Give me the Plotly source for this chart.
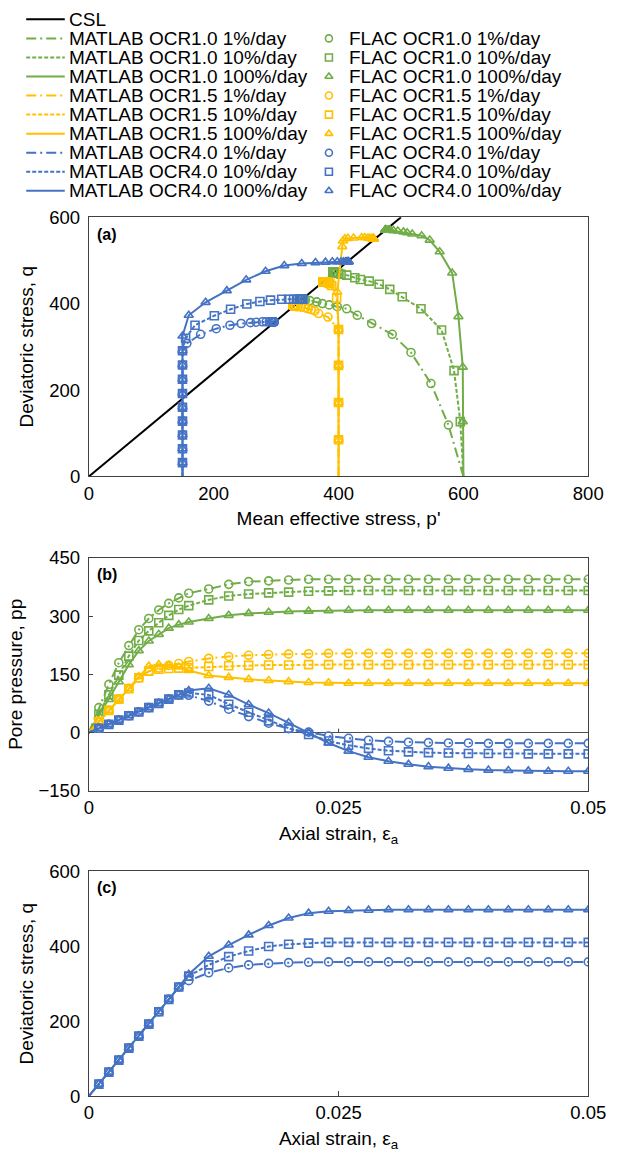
import plotly.graph_objects as go

# ---------------- data ----------------
strain = [0, 0.001, 0.002, 0.003, 0.004, 0.005, 0.006, 0.007, 0.008, 0.009, 0.010,
          0.012, 0.014, 0.016, 0.018, 0.020, 0.022, 0.024, 0.026, 0.028, 0.030,
          0.032, 0.034, 0.036, 0.038, 0.040, 0.042, 0.044, 0.046, 0.048, 0.050]

# Critical state line
csl_p = [0, 500]
csl_q = [0, 600]

# OCR 1.0 (p0' = 600)
q_ocr10_r1 = [0, 119, 215, 287, 329, 354, 373, 388, 393, 397, 400, 404, 407] + [408] * 18
u_ocr10_r1 = [0, 64, 124, 180, 224, 265, 294, 316, 333, 347, 359, 370, 382, 389, 391, 393] + [395] * 15
p_ocr10_r1 = [600, 576, 548, 516, 486, 453, 430, 413, 398, 385, 374, 365, 354, 347, 345, 343] + [341] * 15

q_ocr10_r10 = [0, 127, 245, 339, 388, 416, 433, 445, 452, 456, 460, 466, 468, 470, 471] + [472] * 16
u_ocr10_r10 = [0, 47, 97, 148, 197, 237, 262, 283, 302, 317, 327, 342, 352, 357, 360, 362, 364, 365] + [366] * 13
p_ocr10_r10 = [600, 595, 585, 565, 532, 502, 482, 465, 449, 435, 426, 413, 404, 400, 397, 395, 393, 392] + [391] * 13

q_ocr10_r100 = [0, 127, 253, 370, 471, 520, 547, 557, 561, 564, 566, 568, 569] + [570] * 18
u_ocr10_r100 = [0, 43, 85, 131, 175, 211, 236, 253, 269, 278, 285, 294, 302, 307, 310, 312, 313, 314] + [315] * 13
p_ocr10_r100 = [600, 599, 599, 592, 582, 562, 546, 533, 518, 510, 504, 495, 488, 483, 480, 478, 477, 476] + [475] * 13

# OCR 1.5 (p0' = 400)
q_ocr15_r1 = [0, 85, 171, 257, 340, 369, 377, 383, 386, 388, 390, 392, 393, 393] + [394] * 17
u_ocr15_r1 = [0, 28, 57, 86, 113, 140, 158, 166, 173, 178, 183, 191, 196, 199, 201, 202, 203] + [204] * 14
p_ocr15_r1 = [400, 400, 400, 400, 400, 383, 368, 362, 356, 351, 347, 340, 335, 332, 330, 329, 328] + [327] * 14

q_ocr15_r10 = [0, 85, 171, 257, 340, 413, 442, 446, 448, 449] + [450] * 21
u_ocr15_r10 = [0, 28, 57, 86, 113, 141, 158, 163, 165, 166, 167, 170, 172, 173, 174, 174] + [175] * 15
p_ocr15_r10 = [400, 400, 400, 400, 400, 397, 389, 386, 384, 384, 383, 380, 378, 377, 376, 376] + [375] * 15

q_ocr15_r100 = [0, 85, 171, 257, 340, 427, 532, 545, 550, 551, 552, 553, 553, 552, 551, 551] + [550] * 15
u_ocr15_r100 = [0, 28, 57, 86, 113, 144, 171, 175, 173, 169, 160, 147, 142, 137, 134, 131, 129, 128] + [127] * 13
p_ocr15_r100 = [400, 400, 400, 400, 400, 398, 406, 407, 410, 415, 424, 437, 442, 447, 450, 453, 454, 455] + [456] * 13

# OCR 4.0 (p0' = 150)
q_ocr40_r1 = [0, 32, 64, 96, 128, 160, 192, 225, 258, 291, 308, 329, 342, 350, 354, 356, 357] + [358] * 14
u_ocr40_r1 = [0, 11, 21, 32, 43, 53, 64, 75, 86, 97, 96, 81, 60, 41, 24, 10, 1, -9, -15, -20,
              -23, -25, -26, -27, -27] + [-28] * 6
p_ocr40_r1 = [150] * 10 + [157, 179, 204, 226, 244, 259, 268, 278, 284, 289, 292, 294, 295, 296, 296] + [297] * 6

q_ocr40_r10 = [0, 32, 64, 96, 128, 160, 192, 225, 258, 291, 320, 350, 372, 387, 399, 405, 408] + [410] * 14
u_ocr40_r10 = [0, 11, 21, 32, 43, 53, 64, 75, 86, 97, 102, 97, 73, 52, 30, 11, -5, -22, -33, -41,
               -47, -50, -52, -53, -54, -54, -54, -55, -55, -55, -55]
p_ocr40_r10 = [150] * 10 + [155, 170, 201, 227, 253, 274, 291, 309, 320, 328, 334, 337, 339, 340,
                            341, 341, 341, 342, 342, 342, 342]

q_ocr40_r100 = [0, 32, 64, 96, 128, 160, 192, 225, 258, 291, 325, 373, 403, 430, 455, 475, 488,
                493, 495, 496] + [497] * 11
u_ocr40_r100 = [0, 11, 21, 32, 43, 53, 64, 75, 86, 97, 108, 114, 97, 72, 50, 25, 0, -27, -48, -64,
                -74, -82, -88, -92, -95, -97, -98, -99, -100, -100, -100]
p_ocr40_r100 = [150] * 11 + [160, 187, 221, 252, 283, 313, 341, 363, 379, 390, 398, 404, 408, 411,
                             413, 414, 415, 416, 416, 416]

# axis ticks
p_ticks = [0, 200, 400, 600, 800]
q_ticks = [0, 200, 400, 600]
u_ticks = [-150, 0, 150, 300, 450]
e_ticks = [0, 0.025, 0.05]
e_ticktext = ["0", "0.025", "0.05"]

# ---------------- styling ----------------
GREEN = "#70AD47"
GOLD = "#FFC000"
BLUE = "#4472C4"
FONT = "Liberation Sans, Arial, sans-serif"
DASH = {"1%/day": "10px,4px,2px,4px", "10%/day": "4px,2px", "100%/day": "solid"}
SYMBOL = {"1%/day": "circle-open", "10%/day": "square-open", "100%/day": "triangle-up-open"}

series = [
    ("OCR1.0", "1%/day", GREEN, p_ocr10_r1, q_ocr10_r1, u_ocr10_r1),
    ("OCR1.0", "10%/day", GREEN, p_ocr10_r10, q_ocr10_r10, u_ocr10_r10),
    ("OCR1.0", "100%/day", GREEN, p_ocr10_r100, q_ocr10_r100, u_ocr10_r100),
    ("OCR1.5", "1%/day", GOLD, p_ocr15_r1, q_ocr15_r1, u_ocr15_r1),
    ("OCR1.5", "10%/day", GOLD, p_ocr15_r10, q_ocr15_r10, u_ocr15_r10),
    ("OCR1.5", "100%/day", GOLD, p_ocr15_r100, q_ocr15_r100, u_ocr15_r100),
    ("OCR4.0", "1%/day", BLUE, p_ocr40_r1, q_ocr40_r1, u_ocr40_r1),
    ("OCR4.0", "10%/day", BLUE, p_ocr40_r10, q_ocr40_r10, u_ocr40_r10),
    ("OCR4.0", "100%/day", BLUE, p_ocr40_r100, q_ocr40_r100, u_ocr40_r100),
]

W, H = 640, 1164
X_DOM = [87 / W, 605 / W]
Y_A = [1 - 474 / H, 1 - 210 / H]
Y_B = [1 - 794 / H, 1 - 557 / H]
Y_C = [1 - 1105 / H, 1 - 876 / H]
LEG_H = 200
LEG_FONT = 19

fig = go.Figure()

# CSL in panel (a)
fig.add_trace(go.Scatter(x=csl_p, y=csl_q, mode="lines", line=dict(color="black", width=2),
                         xaxis="x", yaxis="y", hoverinfo="skip"))


def add_pair(x, y, color, rate, xa, ya):
    fig.add_trace(go.Scatter(x=x, y=y, mode="lines",
                             line=dict(color=color, width=2, dash=DASH[rate]),
                             xaxis=xa, yaxis=ya, hoverinfo="skip"))
    fig.add_trace(go.Scatter(x=x[1:], y=y[1:], mode="markers",
                             marker=dict(symbol=SYMBOL[rate], size=8, color=color,
                                         line=dict(color=color, width=1.6)),
                             xaxis=xa, yaxis=ya, hoverinfo="skip"))


for ocr, rate, color, p, q, u in series:
    add_pair(p, q, color, rate, "x", "y")
    add_pair(strain, u, color, rate, "x2", "y2")
    if ocr == "OCR4.0":
        add_pair(strain, q, color, rate, "x3", "y3")

# ---------------- manual legend (hidden axes in pixel units) ----------------
row0, row_step = 8.5, 19.4
annotations = []
fig.add_trace(go.Scatter(x=[22, 62], y=[row0, row0], mode="lines",
                         line=dict(color="black", width=2), xaxis="x4", yaxis="y4", hoverinfo="skip"))
annotations.append(dict(x=64, y=row0, xref="x4", yref="y4", text="CSL", showarrow=False,
                        xanchor="left", yanchor="middle",
                        font=dict(size=LEG_FONT, family=FONT, color="black")))
for i, (ocr, rate, color, p, q, u) in enumerate(series):
    yy = row0 + row_step * (i + 1)
    fig.add_trace(go.Scatter(x=[22, 62], y=[yy, yy], mode="lines",
                             line=dict(color=color, width=2, dash=DASH[rate]),
                             xaxis="x4", yaxis="y4", hoverinfo="skip"))
    annotations.append(dict(x=64, y=yy, xref="x4", yref="y4", text=f"MATLAB {ocr} {rate}",
                            showarrow=False, xanchor="left", yanchor="middle",
                            font=dict(size=LEG_FONT, family=FONT, color="black")))
    fig.add_trace(go.Scatter(x=[336], y=[yy], mode="markers",
                             marker=dict(symbol=SYMBOL[rate], size=7, color=color,
                                         line=dict(color=color, width=1.6)),
                             xaxis="x4", yaxis="y4", hoverinfo="skip"))
    annotations.append(dict(x=355, y=yy, xref="x4", yref="y4", text=f"FLAC {ocr} {rate}",
                            showarrow=False, xanchor="left", yanchor="middle",
                            font=dict(size=LEG_FONT, family=FONT, color="black")))

# panel labels
for lab, xr, yr in [("(a)", "x", "y"), ("(b)", "x2", "y2"), ("(c)", "x3", "y3")]:
    annotations.append(dict(x=0.012, y=0.975, xref=f"{xr} domain", yref=f"{yr} domain",
                            text=f"<b>{lab}</b>", showarrow=False, xanchor="left", yanchor="top",
                            font=dict(size=16, family=FONT, color="black")))

box = dict(showline=True, linecolor="#404040", linewidth=1, mirror=True, showgrid=False,
           zeroline=False, tickfont=dict(size=18.5, family=FONT, color="black"),
           title_font=dict(size=19, family=FONT, color="black"))
ybox = dict(box, ticklabelstandoff=4)
xtitle_standoff = 9
ytitle_standoff = 10

fig.update_layout(
    width=W, height=H, margin=dict(l=0, r=0, t=0, b=0),
    paper_bgcolor="white", plot_bgcolor="white", showlegend=False,
    font=dict(family=FONT, color="black"),
    xaxis=dict(domain=X_DOM, anchor="y", range=[0, 800], tickvals=p_ticks, ticks="",
               title=dict(text="Mean effective stress, p'", standoff=xtitle_standoff), **box),
    yaxis=dict(domain=Y_A, anchor="x", range=[0, 600], tickvals=q_ticks, ticks="",
               title=dict(text="Deviatoric stress, q", standoff=ytitle_standoff), **ybox),
    xaxis2=dict(domain=X_DOM, anchor="y2", range=[0, 0.05], tickvals=e_ticks, ticktext=e_ticktext,
                ticks="", title=dict(text="Axial strain, ε<sub>a</sub>", standoff=xtitle_standoff), **box),
    yaxis2=dict(domain=Y_B, anchor="x2", range=[-150, 450], tickvals=u_ticks, ticks="inside",
                ticklen=4, tickcolor="#404040",
                title=dict(text="Pore pressure, pp", standoff=ytitle_standoff), **ybox),
    xaxis3=dict(domain=X_DOM, anchor="y3", range=[0, 0.05], tickvals=e_ticks, ticktext=e_ticktext,
                ticks="inside", ticklen=5, tickcolor="#404040",
                title=dict(text="Axial strain, ε<sub>a</sub>", standoff=xtitle_standoff), **box),
    yaxis3=dict(domain=Y_C, anchor="x3", range=[0, 600], tickvals=q_ticks, ticks="",
                title=dict(text="Deviatoric stress, q", standoff=ytitle_standoff), **ybox),
    xaxis4=dict(domain=[0, 1], anchor="y4", range=[0, W], visible=False, fixedrange=True),
    yaxis4=dict(domain=[1 - LEG_H / H, 1], anchor="x4", range=[LEG_H, 0], visible=False, fixedrange=True),
    annotations=annotations,
)
fig.update_layout(yaxis2_zeroline=True, yaxis2_zerolinecolor="#505050", yaxis2_zerolinewidth=1)

# small tick mark on the zero line of panel (b)
fig.add_shape(type="line", xref="x2", yref="y2", x0=e_ticks[1], x1=e_ticks[1], y0=0, y1=10,
              line=dict(color="#404040", width=1))

fig.write_html("out.html")
